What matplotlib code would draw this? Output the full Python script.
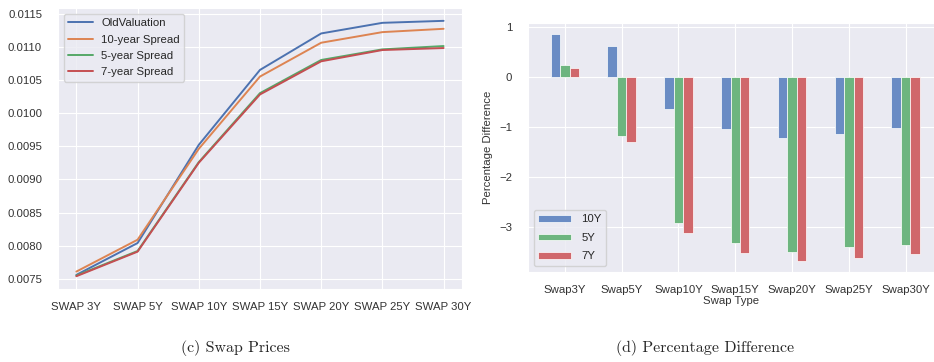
import matplotlib
matplotlib.use("Agg")
import matplotlib.pyplot as plt
import numpy as np
import seaborn as sns

sns.set_style("darkgrid")
plt.rcParams['font.family'] = ['Liberation Sans', 'DejaVu Sans']

# swap prices (left)
swap_labels = ["SWAP 3Y", "SWAP 5Y", "SWAP 10Y", "SWAP 15Y", "SWAP 20Y", "SWAP 25Y", "SWAP 30Y"]
old_valuation = [0.00756, 0.00804, 0.00952, 0.01065, 0.01120, 0.01136, 0.01139]
spread_10y = [0.00761, 0.00809, 0.00946, 0.01055, 0.01106, 0.01122, 0.01127]
spread_5y = [0.00755, 0.00792, 0.00926, 0.01030, 0.01080, 0.01096, 0.01101]
spread_7y = [0.00754, 0.00791, 0.00925, 0.01028, 0.01078, 0.01095, 0.01098]

# percentage difference (right)
swap_types = ["Swap3Y", "Swap5Y", "Swap10Y", "Swap15Y", "Swap20Y", "Swap25Y", "Swap30Y"]
diff_10y = [0.86, 0.61, -0.64, -1.05, -1.23, -1.15, -1.03]
diff_5y = [0.23, -1.19, -2.92, -3.31, -3.50, -3.40, -3.35]
diff_7y = [0.18, -1.30, -3.12, -3.51, -3.68, -3.61, -3.54]

fig = plt.figure(figsize=(9.34, 3.62), dpi=100)

ax1 = fig.add_axes([0.0621, 0.2017, 0.4325, 0.776])
x = np.arange(len(swap_labels))
ax1.plot(x, old_valuation, color="#4C72B0", lw=1.4, label="OldValuation")
ax1.plot(x, spread_10y, color="#DD8452", lw=1.4, label="10-year Spread")
ax1.plot(x, spread_5y, color="#55A868", lw=1.4, label="5-year Spread")
ax1.plot(x, spread_7y, color="#C44E52", lw=1.4, label="7-year Spread")
ax1.set_xticks(x)
ax1.set_xticklabels(swap_labels)
ticks = np.arange(0.0075, 0.01151, 0.0005)
ax1.set_yticks(ticks)
ax1.set_yticklabels([f"{v:.4f}" for v in ticks])
ax1.tick_params(labelsize=8.2, pad=8, colors="#333333")
ax1.tick_params(axis="x", pad=6)
ax1.legend(loc="upper left", fontsize=8.2, frameon=True, handlelength=2.2,
           labelspacing=0.55, handletextpad=0.7, borderaxespad=0.5)

ax2 = fig.add_axes([0.5653, 0.2494, 0.4347, 0.6878])
xb = np.arange(len(swap_types))
w = 0.5 / 3
ax2.bar(xb - w, diff_10y, w, color="#6A8CC4", edgecolor="white", lw=0.5, label="10Y")
ax2.bar(xb, diff_5y, w, color="#6DB57F", edgecolor="white", lw=0.5, label="5Y")
ax2.bar(xb + w, diff_7y, w, color="#D0676B", edgecolor="white", lw=0.5, label="7Y")
ax2.set_xticks(xb)
ax2.set_xticklabels(swap_types)
ax2.set_xlim(-0.65, 6.5)
ax2.set_ylim(-3.89, 1.08)
ax2.set_yticks([1, 0, -1, -2, -3])
ax2.tick_params(labelsize=8.2, pad=8, colors="#333333")
ax2.tick_params(axis="x", pad=6)
ax2.set_xlabel("Swap Type", fontsize=8.2, labelpad=1, color="#333333")
ax2.set_ylabel("Percentage Difference", fontsize=8.2, labelpad=4, color="#333333")
ax2.legend(loc="lower left", fontsize=8.2, frameon=True, handlelength=2.9,
           handleheight=0.5, labelspacing=0.75, handletextpad=0.9)

fig.text(0.252, 0.04, "(c) Swap Prices", family="cmr10", fontsize=11.5, ha="center", va="center")
fig.text(0.755, 0.038, "(d) Percentage Difference", family="cmr10", fontsize=11.5, ha="center", va="center")

fig.savefig("out.png", dpi=100)
